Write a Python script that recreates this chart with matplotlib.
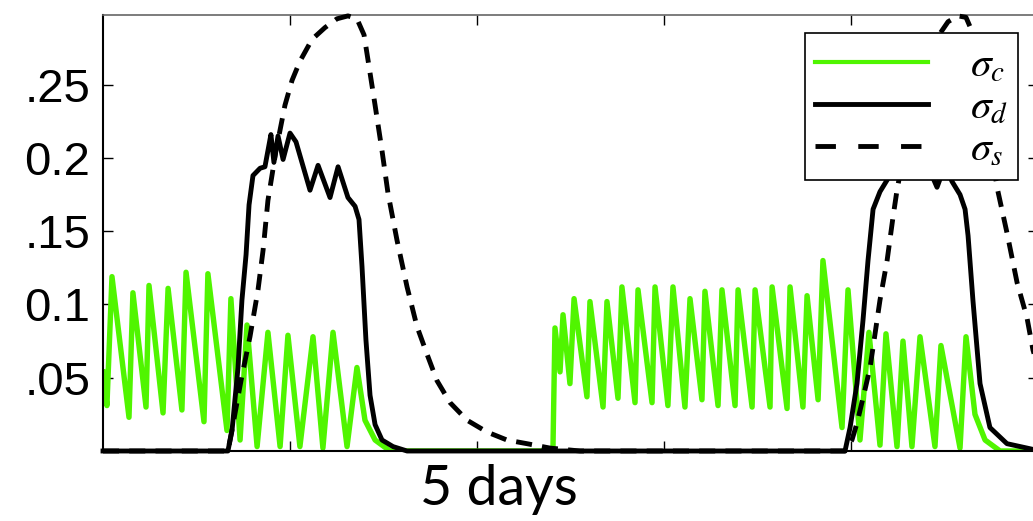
import matplotlib
matplotlib.use('Agg')
import matplotlib.pyplot as plt
from matplotlib.lines import Line2D

plt.rcParams['mathtext.fontset'] = 'stix'

# time in days, stress fractions
t_c = [0.000, 0.021, 0.048, 0.139, 0.160, 0.230, 0.246, 0.321, 0.348, 0.422,
       0.444, 0.540, 0.561, 0.663, 0.684, 0.733, 0.770, 0.824, 0.882, 0.947,
       0.989, 1.053, 1.123, 1.176, 1.230, 1.305, 1.358, 1.401, 1.455, 1.535,
       2.406, 2.417, 2.444, 2.460, 2.497, 2.519, 2.588, 2.604, 2.674, 2.695,
       2.754, 2.775, 2.845, 2.861, 2.936, 2.952, 3.021, 3.048, 3.112, 3.139,
       3.203, 3.219, 3.289, 3.310, 3.380, 3.396, 3.471, 3.487, 3.567, 3.578,
       3.658, 3.674, 3.743, 3.765, 3.824, 3.850, 3.952, 3.984, 4.048, 4.096,
       4.155, 4.187, 4.246, 4.278, 4.326, 4.369, 4.449, 4.481, 4.583, 4.615,
       4.663, 4.717, 4.797, 5.011]
sigma_c = [0.054, 0.031, 0.119, 0.023, 0.108, 0.030, 0.113, 0.026, 0.111, 0.028,
           0.122, 0.020, 0.121, 0.014, 0.104, 0.0075, 0.086, 0.003, 0.081, 0.003,
           0.079, 0.003, 0.078, 0.002, 0.081, 0.003, 0.057, 0.021, 0.0075, 0.0,
           0.0, 0.084, 0.054, 0.093, 0.046, 0.104, 0.037, 0.102, 0.030, 0.102,
           0.036, 0.112, 0.033, 0.110, 0.033, 0.112, 0.031, 0.112, 0.030, 0.104,
           0.035, 0.109, 0.031, 0.110, 0.031, 0.110, 0.030, 0.110, 0.030, 0.112,
           0.029, 0.112, 0.030, 0.106, 0.035, 0.130, 0.016, 0.110, 0.0075, 0.081,
           0.004, 0.080, 0.003, 0.075, 0.003, 0.078, 0.003, 0.072, 0.002, 0.078,
           0.025, 0.0075, 0.0, 0.0]

t_d = [0.000, 0.668, 0.690, 0.722, 0.743, 0.765, 0.781, 0.802, 0.840, 0.866,
       0.882, 0.898, 0.914, 0.936, 0.963, 1.000, 1.032, 1.107, 1.150, 1.214,
       1.257, 1.310, 1.348, 1.369, 1.385, 1.406, 1.428, 1.455, 1.492, 1.551,
       1.626, 3.968, 3.995, 4.032, 4.064, 4.091, 4.118, 4.155, 4.198, 4.241,
       4.278, 4.316, 4.353, 4.396, 4.460, 4.503, 4.540, 4.583, 4.610, 4.626,
       4.652, 4.690, 4.743, 4.834, 4.941, 5.011]
sigma_d = [0.0, 0.0, 0.014, 0.057, 0.103, 0.134, 0.168, 0.188, 0.193, 0.194,
           0.205, 0.216, 0.197, 0.215, 0.199, 0.217, 0.211, 0.178, 0.195, 0.173,
           0.194, 0.173, 0.167, 0.158, 0.126, 0.076, 0.038, 0.018, 0.0075, 0.003,
           0.0, 0.0, 0.016, 0.046, 0.089, 0.130, 0.165, 0.177, 0.186, 0.199,
           0.212, 0.205, 0.216, 0.199, 0.180, 0.195, 0.184, 0.175, 0.165, 0.147,
           0.103, 0.046, 0.016, 0.005, 0.002, 0.0]

t_s = [0.000, 0.668, 0.695, 0.738, 0.786, 0.829, 0.856, 0.882, 0.925, 0.973,
       1.011, 1.053, 1.118, 1.187, 1.251, 1.310, 1.358, 1.396, 1.417, 1.455,
       1.492, 1.524, 1.572, 1.626, 1.679, 1.733, 1.786, 1.856, 1.947, 2.053,
       2.160, 2.267, 2.390, 2.551, 3.968, 4.005, 4.032, 4.075, 4.102, 4.155,
       4.193, 4.225, 4.246, 4.316, 4.396, 4.460, 4.519, 4.572, 4.615, 4.652,
       4.701, 4.743, 4.781, 4.834, 4.888, 4.941, 4.973, 5.011]
sigma_s = [0.0, 0.0, 0.018, 0.048, 0.078, 0.110, 0.137, 0.171, 0.205, 0.236,
           0.253, 0.266, 0.281, 0.289, 0.295, 0.297, 0.295, 0.284, 0.267, 0.236,
           0.205, 0.176, 0.144, 0.112, 0.085, 0.066, 0.048, 0.033, 0.021, 0.013,
           0.0075, 0.005, 0.002, 0.0, 0.0, 0.0075, 0.019, 0.042, 0.057, 0.103,
           0.130, 0.160, 0.178, 0.226, 0.263, 0.282, 0.293, 0.297, 0.296, 0.285,
           0.253, 0.212, 0.180, 0.149, 0.115, 0.091, 0.069, 0.052]

ytick_vals = [0.05, 0.1, 0.15, 0.2, 0.25]
ytick_text = ['.05', '0.1', '.15', '0.2', '.25']
day_ticks = [1, 2, 3, 4]

green = '#50f500'

fig = plt.figure(figsize=(10.33, 5.21), dpi=100)
ax = fig.add_axes([103 / 1033, 1 - 451 / 521, 935 / 1033, 436 / 521])

ax.plot(t_c, sigma_c, color=green, lw=3.9, zorder=2)
ax.plot(t_d, sigma_d, color='black', lw=3.5, zorder=3, clip_on=False)
ax.plot(t_s, sigma_s, color='black', lw=3.5, zorder=4, dashes=(3.3, 2.1),
        clip_on=False)

ax.set_xlim(0, 5)
ax.set_ylim(0, 0.2976)
ax.set_xticks(day_ticks)
ax.set_xticklabels([])
ax.set_yticks(ytick_vals)
ax.set_yticklabels(ytick_text, family='Liberation Sans', fontsize=34)
ax.tick_params(direction='in', length=7, width=1, top=True, right=True, pad=9)

for side in ['left', 'bottom']:
    ax.spines[side].set_linewidth(1.5)
ax.spines['top'].set_color('#666666')
ax.spines['top'].set_linewidth(1.2)

handles = [Line2D([], [], color=green, lw=3.0),
           Line2D([], [], color='black', lw=3.5),
           Line2D([], [], color='black', lw=3.5, dashes=(4.2, 4.6))]
leg = ax.legend(handles, [r'$\sigma_c$', r'$\sigma_d$', r'$\sigma_s$'],
                loc='upper right', bbox_to_anchor=(1018 / 1033, 1 - 33 / 521),
                bbox_transform=fig.transFigure, borderaxespad=0,
                fontsize=30, handlelength=2.7, handletextpad=1.0,
                labelspacing=0.0, borderpad=0.25, fancybox=False,
                framealpha=1, edgecolor='black')
leg.get_frame().set_linewidth(1.2)
leg.set_zorder(10)

fig.text(499 / 1033, 1 - 505 / 521, '5 days', family='Lato', fontsize=40,
         ha='center', va='baseline')

fig.savefig('out.png', dpi=100)
